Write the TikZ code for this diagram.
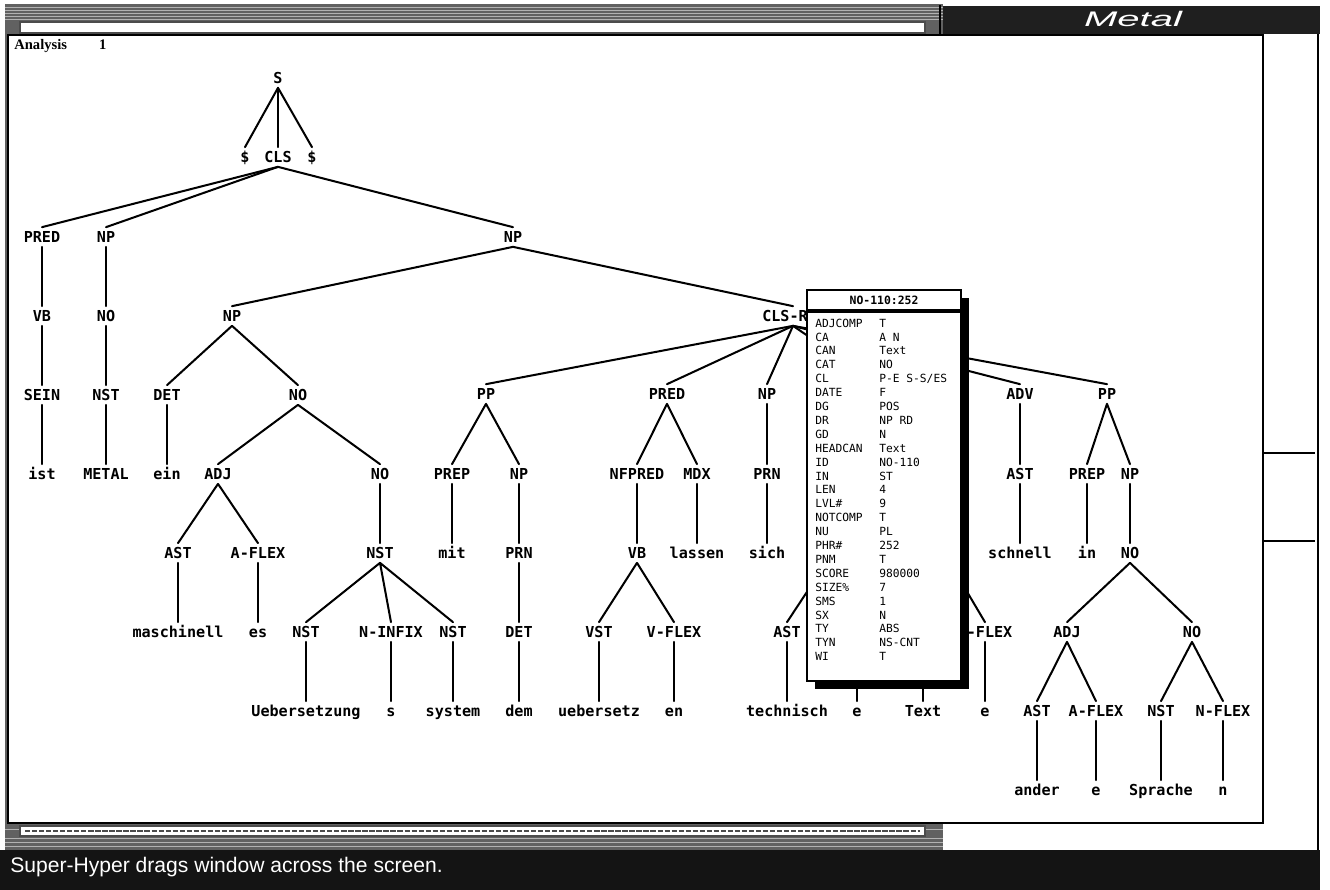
\documentclass[tikz,border=0pt]{standalone}
\usepackage{fontspec}
\setmainfont{Liberation Serif}
\newfontfamily\monofont{DejaVu Sans Mono}
\newfontfamily\lsans{Liberation Sans}
\usetikzlibrary{calc}
\begin{document}
\begin{tikzpicture}[x=0.02cm,y=-0.02cm,
  tn/.style={font=\monofont\bfseries\fontsize{8.6}{10}\selectfont, inner sep=0pt, minimum height=0.38cm, text height=6.3pt, text depth=0pt},
  br/.style={line width=1.15pt, line cap=round},
  bk/.style={font=\monofont\fontsize{6.4}{7}\selectfont, inner sep=0pt, anchor=west, text height=4.7pt, text depth=0pt},
  frame/.style={fill=black!62},
  streak/.style={draw=black!30, line width=0.5pt}
]
\useasboundingbox (0,0) rectangle (1330,890);
\fill[white] (0,0) rectangle (1330,890);

% ---- back window (gray textured frame) ----
\fill[frame] (5,4) rectangle (943,852);
\foreach \yy in {7,10,13,16,19,829,838,842,846}{\draw[streak] (5,\yy) -- (943,\yy);}
\filldraw[fill=white, draw=black!70, line width=0.6pt] (20,22) rectangle (925,33);
\filldraw[fill=white, draw=black!70, line width=0.6pt] (20,826) rectangle (925,836);
\draw[black!70, line width=1.2pt, dash pattern=on 3pt off 1pt] (25,831) -- (920,831);

% ---- Metal window ----
\fill[white] (943,5) rectangle (1320,852);
\fill[black!88] (943,6) rectangle (1320,34);
\draw[line width=0.8pt] (940,5) -- (940,34);
\node[font=\lsans\itshape\fontsize{12}{14}\selectfont, text=white, inner sep=0pt] (metaltitle) at (1133,19) {\scalebox{1.9}[1]{Metal}};
\draw[line width=1pt] (1318,34) -- (1318,852);
\draw[line width=0.8pt] (1263,453) -- (1315,453);
\draw[line width=0.8pt] (1263,541) -- (1315,541);

% ---- status bar ----
\fill[black!92] (0,850) rectangle (1320,890);
\node[font=\lsans\fontsize{12}{14}\selectfont, text=white, anchor=west, inner sep=0pt] (status) at (10,867) {Super-Hyper drags window across the screen.};

% ---- Analysis window ----
\filldraw[fill=white, draw=black, line width=1pt] (8,35) rectangle (1263,823);
\node[font=\bfseries\fontsize{8.3}{9}\selectfont, anchor=west, inner sep=0pt] (antitle) at (14,46) {Analysis\hspace{2.2em}1};

% ---- tree nodes ----
\node[tn] (S) at (278,78) {S};
\node[tn] (d1) at (245,157) {\$};
\node[tn] (cls) at (278,157) {CLS};
\node[tn] (d2) at (312,157) {\$};
\node[tn] (pred1) at (42,237) {PRED};
\node[tn] (np1) at (106,237) {NP};
\node[tn] (np2) at (513,237) {NP};
\node[tn] (vb1) at (42,316) {VB};
\node[tn] (no1) at (106,316) {NO};
\node[tn] (np3) at (232,316) {NP};
\node[tn] (clsr) at (785,316) {CLS-R};
\node[tn] (sein) at (42,395) {SEIN};
\node[tn] (nst1) at (106,395) {NST};
\node[tn] (det1) at (167,395) {DET};
\node[tn] (no2) at (298,395) {NO};
\node[tn] (pp1) at (486,394) {PP};
\node[tn] (pred2) at (667,394) {PRED};
\node[tn] (np4) at (767,394) {NP};
\node[tn] (adv) at (1020,394) {ADV};
\node[tn] (pp2) at (1107,394) {PP};
\node[tn] (ist) at (42,474) {ist};
\node[tn] (metal) at (106,474) {METAL};
\node[tn] (ein) at (167,474) {ein};
\node[tn] (adj1) at (218,474) {ADJ};
\node[tn] (no3) at (380,474) {NO};
\node[tn] (prep1) at (452,474) {PREP};
\node[tn] (np5) at (519,474) {NP};
\node[tn] (nfpred) at (637,474) {NFPRED};
\node[tn] (mdx) at (697,474) {MDX};
\node[tn] (prn1) at (767,474) {PRN};
\node[tn] (ast1) at (1020,474) {AST};
\node[tn] (prep2) at (1087,474) {PREP};
\node[tn] (np6) at (1130,474) {NP};
\node[tn] (ast2) at (178,553) {AST};
\node[tn] (aflex1) at (258,553) {A-FLEX};
\node[tn] (nst2) at (380,553) {NST};
\node[tn] (mit) at (452,553) {mit};
\node[tn] (prn2) at (519,553) {PRN};
\node[tn] (vb2) at (637,553) {VB};
\node[tn] (lassen) at (697,553) {lassen};
\node[tn] (sich) at (767,553) {sich};
\node[tn] (schnell) at (1020,553) {schnell};
\node[tn] (in) at (1087,553) {in};
\node[tn] (no4) at (1130,553) {NO};
\node[tn] (maschinell) at (178,632) {maschinell};
\node[tn] (es) at (258,632) {es};
\node[tn] (nst3) at (306,632) {NST};
\node[tn] (ninfix) at (391,632) {N-INFIX};
\node[tn] (nst4) at (453,632) {NST};
\node[tn] (det2) at (519,632) {DET};
\node[tn] (vst) at (599,632) {VST};
\node[tn] (vflex) at (674,632) {V-FLEX};
\node[tn] (ast3) at (787,632) {AST};
\node[tn] (nflex1) at (985,632) {N-FLEX};
\node[tn] (adj2) at (1067,632) {ADJ};
\node[tn] (no5) at (1192,632) {NO};
\node[tn] (uebersetzung) at (306,711) {Uebersetzung};
\node[tn] (s) at (391,711) {s};
\node[tn] (system) at (453,711) {system};
\node[tn] (dem) at (519,711) {dem};
\node[tn] (uebersetz) at (599,711) {uebersetz};
\node[tn] (en) at (674,711) {en};
\node[tn] (technisch) at (787,711) {technisch};
\node[tn] (e1) at (857,711) {e};
\node[tn] (text) at (923,711) {Text};
\node[tn] (e2) at (985,711) {e};
\node[tn] (ast4) at (1037,711) {AST};
\node[tn] (aflex2) at (1096,711) {A-FLEX};
\node[tn] (nst5) at (1161,711) {NST};
\node[tn] (nflex2) at (1223,711) {N-FLEX};
\node[tn] (ander) at (1037,790) {ander};
\node[tn] (e3) at (1096,790) {e};
\node[tn] (sprache) at (1161,790) {Sprache};
\node[tn] (n) at (1223,790) {n};

% hidden (under the feature box)
\coordinate (hnpT) at (880,385);
\coordinate (hnpB) at (880,404);
\coordinate (hnoT) at (880,465);
\coordinate (hnoB) at (880,483);
\coordinate (hadjT) at (826,544);
\coordinate (hadjB) at (826,563);
\coordinate (hno2T) at (950,544);
\coordinate (hno2B) at (950,563);
\coordinate (haflexT) at (857,622);
\coordinate (haflexB) at (857,641);
\coordinate (hnstT) at (923,622);
\coordinate (hnstB) at (923,641);

% ---- tree edges ----
\foreach \c in {d1,cls,d2}{\draw[br] (S.south) -- (\c.north);}
\foreach \c in {pred1,np1,np2}{\draw[br] (cls.south) -- (\c.north);}
\draw[br] (pred1) -- (vb1) (vb1) -- (sein) (sein) -- (ist);
\draw[br] (np1) -- (no1) (no1) -- (nst1) (nst1) -- (metal);
\draw[br] (np2.south) -- (np3.north);
\draw[br] (np2.south) -- ([xshift=0.16cm]clsr.north);
\draw[br] (np3.south) -- (det1.north) (np3.south) -- (no2.north);
\draw[br] (det1) -- (ein);
\draw[br] (no2.south) -- (adj1.north) (no2.south) -- (no3.north);
\draw[br] (adj1.south) -- (ast2.north) (adj1.south) -- (aflex1.north);
\draw[br] (ast2) -- (maschinell) (aflex1) -- (es);
\draw[br] (no3) -- (nst2);
\draw[br] (nst2.south) -- (nst3.north) (nst2.south) -- (ninfix.north) (nst2.south) -- (nst4.north);
\draw[br] (nst3) -- (uebersetzung) (ninfix) -- (s) (nst4) -- (system);
\foreach \c in {pp1,pred2,np4,adv,pp2}{\draw[br] ([xshift=0.16cm]clsr.south) -- (\c.north);}
\draw[br] ([xshift=0.16cm]clsr.south) -- (hnpT);
\draw[br] (pp1.south) -- (prep1.north) (pp1.south) -- (np5.north);
\draw[br] (prep1) -- (mit) (np5) -- (prn2) (prn2) -- (det2) (det2) -- (dem);
\draw[br] (pred2.south) -- (nfpred.north) (pred2.south) -- (mdx.north);
\draw[br] (nfpred) -- (vb2) (mdx) -- (lassen);
\draw[br] (vb2.south) -- (vst.north) (vb2.south) -- (vflex.north);
\draw[br] (vst) -- (uebersetz) (vflex) -- (en);
\draw[br] (np4) -- (prn1) (prn1) -- (sich);
\draw[br] (hnpB) -- (hnoT) (hnoB) -- (hadjT) (hnoB) -- (hno2T);
\draw[br] (hadjB) -- (ast3.north) (hadjB) -- (haflexT) (hno2B) -- (hnstT) (hno2B) -- (nflex1.north);
\draw[br] (ast3) -- (technisch) (haflexB) -- (e1.north) (hnstB) -- (text.north) (nflex1) -- (e2);
\draw[br] (adv) -- (ast1) (ast1) -- (schnell);
\draw[br] (pp2.south) -- (prep2.north) (pp2.south) -- (np6.north);
\draw[br] (prep2) -- (in) (np6) -- (no4);
\draw[br] (no4.south) -- (adj2.north) (no4.south) -- (no5.north);
\draw[br] (adj2.south) -- (ast4.north) (adj2.south) -- (aflex2.north);
\draw[br] (no5.south) -- (nst5.north) (no5.south) -- (nflex2.north);
\draw[br] (ast4) -- (ander) (aflex2) -- (e3) (nst5) -- (sprache) (nflex2) -- (n);

% ---- feature box ----
\fill[black] (815,298) rectangle (969,689);
\filldraw[fill=white, draw=black, line width=1.2pt] (807,290) rectangle (961,681);
\draw[line width=1.8pt] (807,311) -- (961,311);
\node[font=\monofont\bfseries\fontsize{6.5}{7}\selectfont, inner sep=0pt] (boxtitle) at (884,300) {NO-110:252};
\foreach [count=\i from 0] \k/\v in {ADJCOMP/T, CA/A N, CAN/Text, CAT/NO, CL/P-E S-S{/}ES, DATE/F, DG/POS, DR/NP RD, GD/N, HEADCAN/Text, ID/NO-110, IN/ST, LEN/4, LVL\#/9, NOTCOMP/T, NU/PL, PHR\#/252, PNM/T, SCORE/980000, SIZE\%/7, SMS/1, SX/N, TY/ABS, TYN/NS-CNT, WI/T}{
  \node[bk] (key\i) at (815,{323+13.9*\i}) {\k};
  \node[bk] (val\i) at (879,{323+13.9*\i}) {\v};
}
\end{tikzpicture}
\end{document}
